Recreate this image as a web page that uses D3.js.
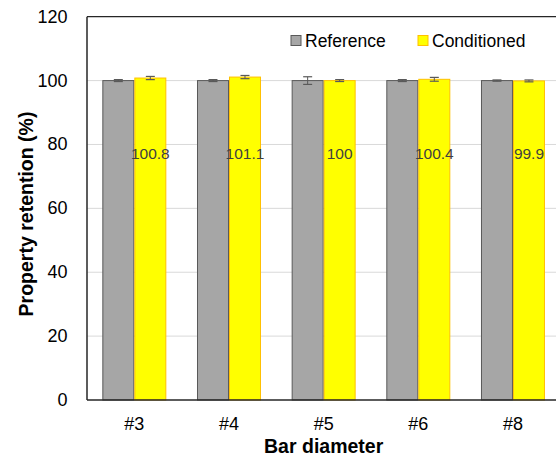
<!DOCTYPE html>
<html><head><meta charset="utf-8">
<script src="https://cdn.jsdelivr.net/npm/d3@7"></script>
<style>html,body{margin:0;padding:0;background:#fff;overflow:hidden}</style>
</head><body>
<svg id="c" width="556" height="458"></svg>
<script>
const categories = ["#3", "#4", "#5", "#6", "#8"];
const seriesNames = ["Reference", "Conditioned"];
const referenceValues = [100, 100, 100, 100, 100];
const conditionedValues = [100.8, 101.1, 100, 100.4, 99.9];
const referenceErrors = [0.3, 0.3, 1.2, 0.3, 0.2];
const conditionedErrors = [0.5, 0.5, 0.3, 0.6, 0.3];
const yTicks = [0, 20, 40, 60, 80, 100, 120];
const labelValue = 77.3;

const svg = d3.select("#c");
const font = "'Liberation Sans', Arial, sans-serif";
const L = 87, R = 560.3, T = 16.7, B = 400;

const x0 = d3.scaleBand().domain(categories).range([L, R]).paddingInner(0.324).paddingOuter(0.162);
const x1 = d3.scaleBand().domain(seriesNames).range([0, x0.bandwidth()]);
const y = d3.scaleLinear().domain([0, 120]).range([B, T]);

// gridlines
svg.append("g").selectAll("line").data(yTicks.filter(t => t > 0 && t < 120)).join("line")
  .attr("x1", L).attr("x2", 556).attr("y1", d => y(d)).attr("y2", d => y(d))
  .attr("stroke", "#d9d9d9").attr("stroke-width", 1);

const fills = {Reference: "#a6a6a6", Conditioned: "#ffff00"};
const strokes = {Reference: "#595959", Conditioned: "#ffc000"};
const rows = categories.map((c, i) => ({
  cat: c,
  vals: [
    {s: "Reference", v: referenceValues[i], e: referenceErrors[i]},
    {s: "Conditioned", v: conditionedValues[i], e: conditionedErrors[i]}
  ]
}));

const g = svg.append("g").selectAll("g").data(rows).join("g")
  .attr("transform", d => `translate(${x0(d.cat)},0)`);
g.selectAll("rect").data(d => d.vals).join("rect")
  .attr("x", d => x1(d.s) + 0.5).attr("width", x1.bandwidth() - 1)
  .attr("y", d => y(d.v)).attr("height", d => y(0) - y(d.v))
  .attr("fill", d => fills[d.s]).attr("stroke", d => strokes[d.s]).attr("stroke-width", 1);

// error bars
const eb = g.selectAll("g.eb").data(d => d.vals).join("g").attr("class", "eb");
const cx = d => x1(d.s) + x1.bandwidth() / 2;
eb.append("line").attr("x1", cx).attr("x2", cx)
  .attr("y1", d => y(d.v + d.e)).attr("y2", d => y(d.v - d.e))
  .attr("stroke", "#595959").attr("stroke-width", 1);
eb.append("line").attr("x1", d => cx(d) - 4.5).attr("x2", d => cx(d) + 4.5)
  .attr("y1", d => y(d.v + d.e)).attr("y2", d => y(d.v + d.e))
  .attr("stroke", "#595959").attr("stroke-width", 1.2);
eb.append("line").attr("x1", d => cx(d) - 4.5).attr("x2", d => cx(d) + 4.5)
  .attr("y1", d => y(d.v - d.e)).attr("y2", d => y(d.v - d.e))
  .attr("stroke", "#595959").attr("stroke-width", 1.2);

// data labels on conditioned bars
g.append("text")
  .attr("x", x1("Conditioned") + x1.bandwidth() / 2)
  .attr("y", y(labelValue))
  .attr("text-anchor", "middle").attr("dominant-baseline", "central")
  .attr("font-family", font).attr("font-size", 15.5).attr("fill", "#404040")
  .text((d, i) => conditionedValues[i]);

// axes lines
svg.append("line").attr("x1", L).attr("x2", L).attr("y1", T).attr("y2", B).attr("stroke", "#262626").attr("stroke-width", 1.5);
svg.append("line").attr("x1", L).attr("x2", 556).attr("y1", B).attr("y2", B).attr("stroke", "#262626").attr("stroke-width", 1.5);
svg.append("line").attr("x1", L).attr("x2", 556).attr("y1", T).attr("y2", T).attr("stroke", "#262626").attr("stroke-width", 1.2);

// y tick labels
svg.append("g").selectAll("text").data(yTicks).join("text")
  .attr("x", 67.5).attr("y", d => y(d)).attr("text-anchor", "end").attr("dominant-baseline", "central")
  .attr("font-family", font).attr("font-size", 18).attr("fill", "#000").text(d => d);

// x tick labels
svg.append("g").selectAll("text").data(categories).join("text")
  .attr("x", d => x0(d) + x0.bandwidth() / 2).attr("y", 424).attr("text-anchor", "middle").attr("dominant-baseline", "central")
  .attr("font-family", font).attr("font-size", 18).attr("fill", "#000").text(d => d);

// axis titles
svg.append("text").attr("x", (L + R) / 2).attr("y", 446).attr("text-anchor", "middle").attr("dominant-baseline", "central")
  .attr("font-family", font).attr("font-size", 19.5).attr("font-weight", "bold").text("Bar diameter");
svg.append("text").attr("transform", `translate(26,214) rotate(-90)`)
  .attr("text-anchor", "middle").attr("dominant-baseline", "central")
  .attr("font-family", font).attr("font-size", 19.5).attr("font-weight", "bold").text("Property retention (%)");

// legend
const legX = [291, 418];
const lg = svg.append("g").selectAll("g").data(seriesNames).join("g")
  .attr("transform", (d, i) => `translate(${legX[i]},35.5)`);
lg.append("rect").attr("width", 10).attr("height", 10).attr("fill", d => fills[d]).attr("stroke", d => strokes[d]).attr("stroke-width", 1);
lg.append("text").attr("x", 14).attr("y", 5.5).attr("dominant-baseline", "central")
  .attr("font-family", font).attr("font-size", 17.5).attr("fill", "#000").text(d => d);
</script>
</body></html>
